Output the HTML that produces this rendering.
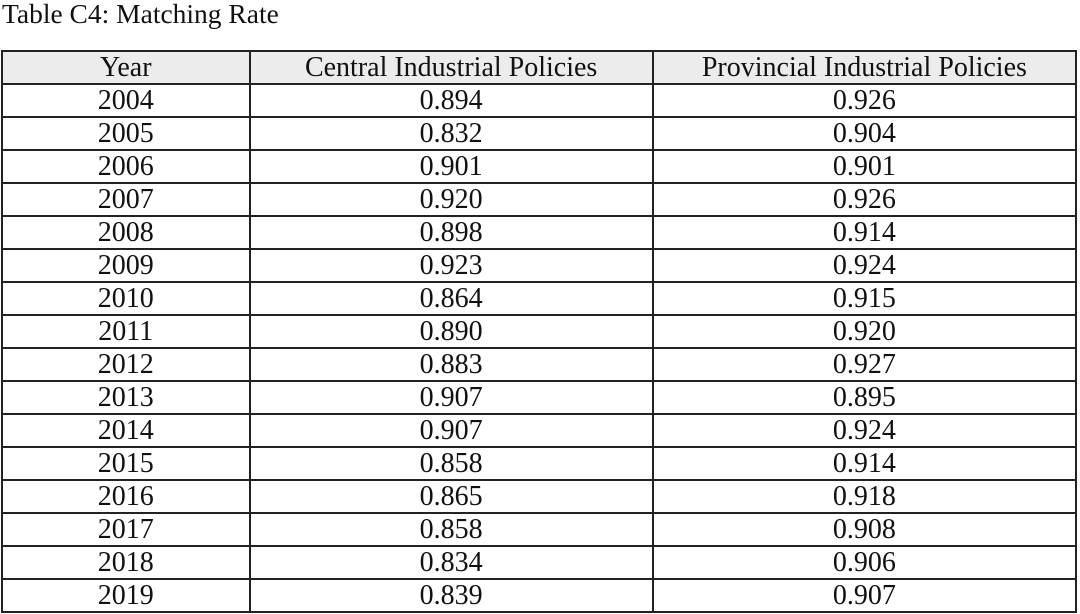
<!DOCTYPE html>
<html><head><meta charset="utf-8"><style>
body{margin:0;width:1080px;height:614px;background:#fff;position:relative;overflow:hidden;font-family:"Liberation Serif",serif;color:#111}
#title{position:absolute;left:2px;top:-1px;font-size:27.5px;line-height:30px}
table{position:absolute;left:1px;top:50px;width:1076px;border-collapse:collapse;font-size:28px}
td,th{border:2px solid #222;height:31px;padding:0;text-align:center;font-weight:normal;line-height:31px}
th{background:#ececec}
</style></head><body>
<div id="title">Table C4: Matching Rate</div>
<table>
<colgroup><col style="width:248px"><col style="width:404px"><col style="width:424px"></colgroup>
<thead><tr><th>Year</th><th>Central Industrial Policies</th><th>Provincial Industrial Policies</th></tr></thead>
<tbody id="tb"></tbody>
</table>
<script>
const years=[2004,2005,2006,2007,2008,2009,2010,2011,2012,2013,2014,2015,2016,2017,2018,2019];
const central=["0.894","0.832","0.901","0.920","0.898","0.923","0.864","0.890","0.883","0.907","0.907","0.858","0.865","0.858","0.834","0.839"];
const provincial=["0.926","0.904","0.901","0.926","0.914","0.924","0.915","0.920","0.927","0.895","0.924","0.914","0.918","0.908","0.906","0.907"];
const tb=document.getElementById('tb');
years.forEach((y,i)=>{
const tr=document.createElement('tr');


[y,central[i],provincial[i]].forEach((v,j)=>{
const td=document.createElement('td');


td.textContent=v;tr.appendChild(td);});
tb.appendChild(tr);});
</script>
</body></html>
